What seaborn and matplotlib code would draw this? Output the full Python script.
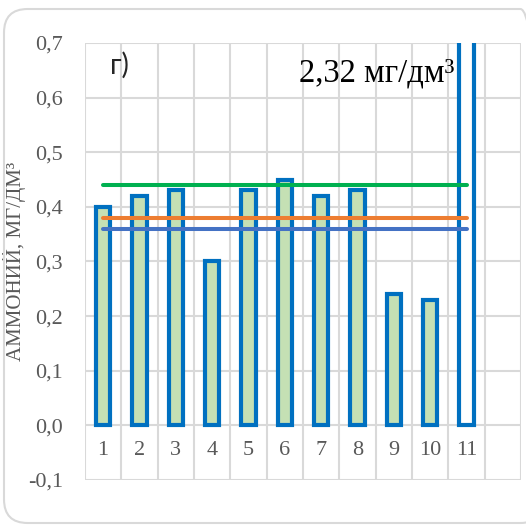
import matplotlib
matplotlib.use('Agg')
import matplotlib.pyplot as plt
import seaborn as sns
import pandas as pd
from matplotlib.patches import FancyBboxPatch

# --- datos ---
puntos = ['1', '2', '3', '4', '5', '6', '7', '8', '9', '10', '11']
amonio = [0.40, 0.42, 0.43, 0.30, 0.43, 0.45, 0.42, 0.43, 0.24, 0.23, 2.32]
relleno = ['#c5e0b4'] * 10 + ['#ffffff']

# lineas de referencia
ref_verde = 0.44
ref_naranja = 0.38
ref_azul = 0.36
y_ticks = [-0.1, 0.0, 0.1, 0.2, 0.3, 0.4, 0.5, 0.6, 0.7]
y_labels = ['-0,1', '0,0', '0,1', '0,2', '0,3', '0,4', '0,5', '0,6', '0,7']

df = pd.DataFrame({'Punto': puntos, 'Amonio': amonio})

sns.set_style('white')
plt.rcParams['font.family'] = ['Liberation Serif', 'DejaVu Serif']

fig = plt.figure(figsize=(5.26, 5.27), dpi=100)
# marco redondeado
fig.patches.append(FancyBboxPatch((4 / 526, 4 / 527), 540 / 526, 514 / 527,
                                  boxstyle='round,pad=0,rounding_size=0.045',
                                  transform=fig.transFigure, facecolor='none',
                                  edgecolor='#d9d9d9', linewidth=1.5))
ax = fig.add_axes([0.1616, 0.0892, 0.8289, 0.8292])

sns.barplot(data=df, x='Punto', y='Amonio', hue='Punto', palette=relleno,
            legend=False, width=0.39, edgecolor='#0070c0', linewidth=3.0,
            saturation=1, ax=ax, zorder=3)

# lineas horizontales de referencia
for val, col in [(ref_azul, '#4472c4'), (ref_naranja, '#ed7d31'), (ref_verde, '#00b050')]:
    sns.lineplot(x=[0, 10], y=[val, val], color=col, linewidth=2.9, ax=ax,
                 zorder=4, solid_capstyle='round')

ax.set_xlim(-0.5, 11.5)
ax.set_ylim(-0.1, 0.7)
ax.set_yticks(y_ticks)
ax.set_yticklabels(y_labels)
ax.set_xticks(range(len(puntos)))
ax.set_xticklabels(puntos)
ax.set_xticks([i - 0.5 for i in range(13)], minor=True)
ax.grid(True, axis='y', color='#d9d9d9', linewidth=1.5, zorder=0)
ax.grid(True, axis='x', which='minor', color='#d9d9d9', linewidth=1.5, zorder=0)
ax.grid(False, axis='x', which='major')
ax.spines['bottom'].set_position(('data', 0))
for s in ax.spines.values():
    s.set_visible(False)
ax.tick_params(axis='both', which='both', length=0)
ax.tick_params(axis='y', pad=16, labelsize=16, labelcolor='#595959')
ax.tick_params(axis='x', pad=11, labelsize=16, labelcolor='#595959')
ax.set_xlabel('')
ax.set_ylabel('АММОНИЙ, МГ/ДМ³', fontsize=15, color='#595959')
ax.yaxis.set_label_coords(-0.135, 0.5)

ax.text(0.46, 0.66, 'г)', fontsize=20,
        family=['Lato', 'DejaVu Sans'], va='center', ha='center')
ax.text(7.54, 0.645, '2,32 мг/дм³', fontsize=23.5, ha='center', va='center',
        color='black')

plt.savefig('out.png', dpi=100)
